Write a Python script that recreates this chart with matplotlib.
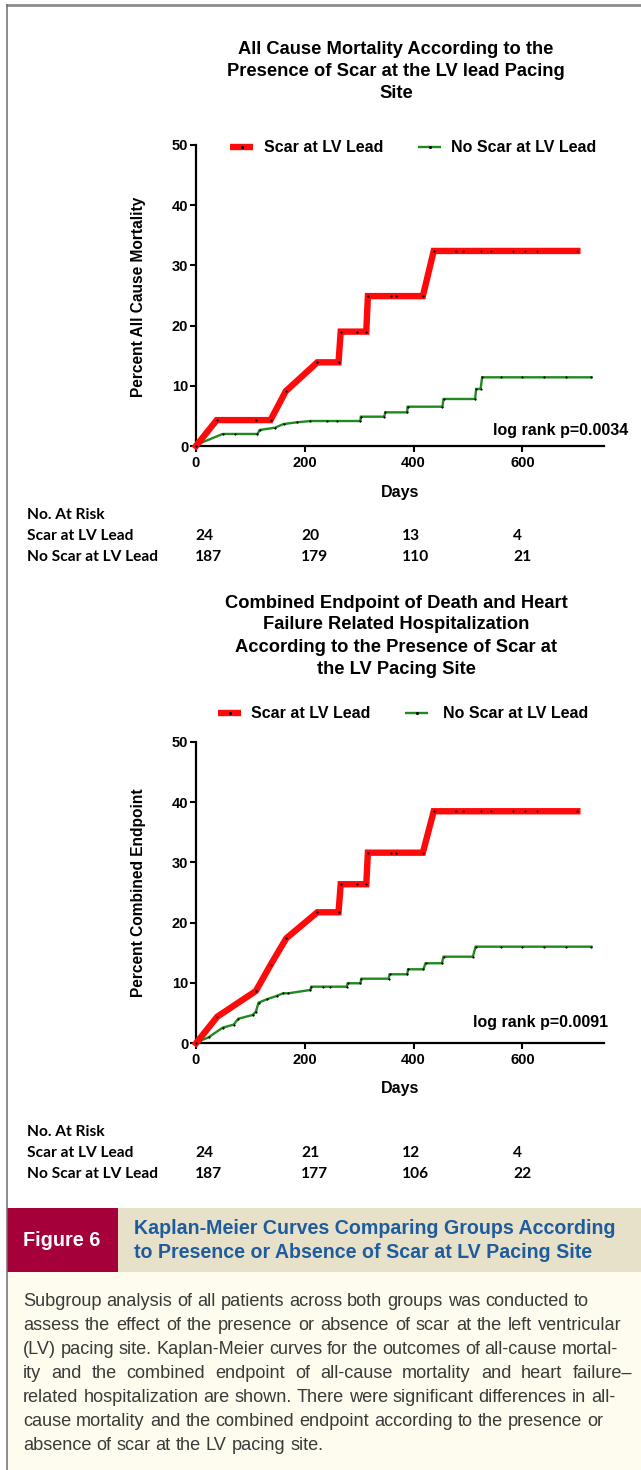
import matplotlib
matplotlib.use("Agg")
import matplotlib.pyplot as plt
from matplotlib.lines import Line2D
from matplotlib.patches import Rectangle

# ---------------- data ----------------
# Panel A: all cause mortality (percent)
mort_scar_days = [0, 38, 110, 137, 165, 223, 262, 266, 296, 313, 316, 359, 368, 417,
                  437, 478, 491, 523, 543, 583, 604, 627, 701]
mort_scar_vals = [0, 4.3, 4.3, 4.3, 9.1, 13.9, 13.9, 19.0, 19.0, 19.0, 24.9, 24.9, 24.9,
                  24.9, 32.4, 32.4, 32.4, 32.4, 32.4, 32.4, 32.4, 32.4, 32.4]
mort_noscar_days = [0, 7, 49, 72, 113, 117, 145, 161, 185, 210, 240, 260, 302, 303, 346,
                    348, 388, 389, 453, 455, 513, 515, 523, 526, 560, 600, 640, 680, 727]
mort_noscar_vals = [0, 0.44, 2.0, 2.0, 2.0, 2.66, 3.04, 3.65, 3.93, 4.15, 4.15, 4.15, 4.15,
                    4.87, 4.87, 5.59, 5.59, 6.53, 6.53, 7.81, 7.81, 9.47, 9.47, 11.41,
                    11.41, 11.41, 11.41, 11.41, 11.41]

# Panel B: combined endpoint (percent)
comb_scar_days = [0, 39, 110, 137, 166, 223, 262, 266, 296, 313, 316, 359, 368, 417,
                  437, 478, 491, 523, 543, 583, 604, 627, 701]
comb_scar_vals = [0, 4.41, 8.67, 12.99, 17.41, 21.72, 21.72, 26.37, 26.37, 26.37, 31.6,
                  31.6, 31.6, 31.6, 38.47, 38.47, 38.47, 38.47, 38.47, 38.47, 38.47,
                  38.47, 38.47]
comb_noscar_days = [0, 7, 23, 49, 69, 78, 104, 110, 115, 130, 148, 160, 170, 210, 212,
                    234, 247, 277, 279, 302, 304, 354, 356, 388, 390, 418, 422, 452, 455,
                    509, 514, 560, 600, 640, 680, 727]
comb_noscar_vals = [0, 0.38, 0.99, 2.59, 3.09, 4.08, 4.69, 5.24, 6.73, 7.3, 7.85, 8.29,
                    8.29, 8.84, 9.39, 9.39, 9.39, 9.39, 9.95, 9.95, 10.71, 10.71, 11.44,
                    11.44, 12.27, 12.27, 13.27, 13.27, 14.36, 14.36, 16.02, 16.02, 16.02,
                    16.02, 16.02, 16.02]

series_labels = ["Scar at LV Lead", "No Scar at LV Lead"]
x_ticks = [0, 200, 400, 600]
y_ticks = [0, 10, 20, 30, 40, 50]

risk_scar_A = ["24", "20", "13", "4"]
risk_noscar_A = ["187", "179", "110", "21"]
risk_scar_B = ["24", "21", "12", "4"]
risk_noscar_B = ["187", "177", "106", "22"]

title_A = ["All Cause Mortality According to the",
           "Presence of Scar at the LV lead Pacing",
           "Site"]
title_B = ["Combined Endpoint of Death and Heart",
           "Failure Related Hospitalization",
           "According to the Presence of Scar at",
           "the LV Pacing Site"]
ylabel_A = "Percent All Cause Mortality"
ylabel_B = "Percent Combined Endpoint"
logrank_A = "log rank p=0.0034"
logrank_B = "log rank p=0.0091"

fig_label = "Figure 6"
fig_title = ["Kaplan-Meier Curves Comparing Groups According",
             "to Presence or Absence of Scar at LV Pacing Site"]
caption = [
    "Subgroup analysis of all patients across both groups was conducted to",
    "assess the effect of the presence or absence of scar at the left ventricular",
    "(LV) pacing site. Kaplan-Meier curves for the outcomes of all-cause mortal-",
    "ity and the combined endpoint of all-cause mortality and heart failure\u2013",
    "related hospitalization are shown. There were significant differences in all-",
    "cause mortality and the combined endpoint according to the presence or",
    "absence of scar at the LV pacing site.",
]

# ---------------- style ----------------
W, H = 641, 1470
RED = "#FF0A0A"
GREEN = "#1F8A1F"
CRIMSON = "#A5003A"
BEIGE = "#E8E1CA"
CREAM = "#FEFCEE"
BLUE = "#1E5C9E"
BORDER = "#8C8C8C"
ARIAL = "Liberation Sans"
RISKFONT = "Lato"

fig = plt.figure(figsize=(W / 100, H / 100), dpi=100)
fig.patch.set_facecolor("white")
renderer = fig.canvas.get_renderer()


def fx(x):
    return x / W


def fy(y):
    return 1 - y / H


def ftext(x, y, s, **kw):
    return fig.text(fx(x), fy(y), s, **kw)


def text_width(s, **kw):
    t = fig.text(0, 0, s, **kw)
    w = t.get_window_extent(renderer).width
    t.remove()
    return w


def fit_size(s, target, **kw):
    return 10 * target / text_width(s, fontsize=10, **kw)


# ---------------- background / frame ----------------
fig.add_artist(Rectangle((fx(7), 0), 1 - fx(7), fy(1272), transform=fig.transFigure,
                         facecolor=CREAM, edgecolor="none", zorder=0))
fig.add_artist(Rectangle((fx(118), fy(1272)), 1 - fx(118), (1272 - 1208) / H,
                         transform=fig.transFigure, facecolor=BEIGE, edgecolor="none", zorder=1))
fig.add_artist(Rectangle((fx(7), fy(1272)), (118 - 7) / W, (1272 - 1208) / H,
                         transform=fig.transFigure, facecolor=CRIMSON, edgecolor="none", zorder=1))
fig.add_artist(Line2D([fx(7), 1], [fy(5), fy(5)], transform=fig.transFigure,
                      color=BORDER, lw=2.0, zorder=5))
fig.add_artist(Line2D([fx(7), fx(7)], [fy(5), 0], transform=fig.transFigure,
                      color="#6E6E6E", lw=1.1, zorder=5))


# ---------------- panels ----------------
def panel(top, bottom, title_lines, title_y0, legend_y, legend_x, s_days, s_vals,
          n_days, n_vals, ylabel, ylab_y, logrank, logrank_x, logrank_y, days_y,
          risk_y0, risk_s, risk_n):
    ax = fig.add_axes([fx(196), fy(bottom), (604 - 196) / W, (bottom - top) / H])
    ax.set_facecolor("none")
    ax.plot(n_days, n_vals, color=GREEN, lw=1.7, marker=".", ms=2.4, mfc="black",
            mec="black", mew=0.3, clip_on=False, zorder=3, solid_joinstyle="miter")
    ax.plot(s_days, s_vals, color=RED, lw=4.6, marker=".", ms=2.4, mfc="black",
            mec="black", mew=0.3, clip_on=False, zorder=4, solid_joinstyle="miter")
    ax.set_xlim(0, 750)
    ax.set_ylim(0, 50)
    ax.set_xticks(x_ticks)
    ax.set_yticks(y_ticks)
    for side in ("top", "right"):
        ax.spines[side].set_visible(False)
    for side in ("left", "bottom"):
        ax.spines[side].set_linewidth(1.6)
    ax.tick_params(direction="out", length=4, width=1.5, labelsize=10.5, pad=1.5)
    ax.tick_params(axis="x", pad=3)
    for lab in ax.get_xticklabels() + ax.get_yticklabels():
        lab.set_fontweight("bold")
        lab.set_fontfamily(ARIAL)

    # title
    for i, line in enumerate(title_lines):
        ftext(396, title_y0 + 22 * i, line, ha="center", va="center",
              fontsize=13.2, fontweight="bold", family=ARIAL)
    # legend
    (rx, rtx, gx, gtx) = legend_x
    fig.add_artist(Line2D([fx(rx), fx(rx + 23)], [fy(legend_y)] * 2, transform=fig.transFigure,
                          color=RED, lw=4.6, solid_capstyle="butt"))
    fig.add_artist(Line2D([fx(rx + 11.5)], [fy(legend_y)], transform=fig.transFigure,
                          marker=".", ms=2.4, color="black"))
    fig.add_artist(Line2D([fx(gx), fx(gx + 23)], [fy(legend_y)] * 2, transform=fig.transFigure,
                          color=GREEN, lw=1.7, solid_capstyle="butt"))
    fig.add_artist(Line2D([fx(gx + 11.5)], [fy(legend_y)], transform=fig.transFigure,
                          marker=".", ms=2.4, color="black"))
    ftext(rtx, legend_y, series_labels[0], ha="left", va="center", fontsize=11.5,
          fontweight="bold", family=ARIAL)
    ftext(gtx, legend_y, series_labels[1], ha="left", va="center", fontsize=11.5,
          fontweight="bold", family=ARIAL)
    # axis labels
    ftext(138, ylab_y, ylabel, rotation=90, ha="center", va="center", fontsize=11.2,
          fontweight="bold", family=ARIAL)
    ftext(400, days_y, "Days", ha="center", va="center", fontsize=11.5,
          fontweight="bold", family=ARIAL)
    ftext(logrank_x, logrank_y, logrank, ha="left", va="center", fontsize=11.5,
          fontweight="bold", family=ARIAL)
    # risk table
    rs = risk_font
    ftext(27, risk_y0, "No. At Risk", ha="left", va="center", fontsize=rs,
          fontweight="bold", family=RISKFONT)
    ftext(27, risk_y0 + 21, series_labels[0], ha="left", va="center", fontsize=rs,
          fontweight="bold", family=RISKFONT)
    ftext(27, risk_y0 + 42, series_labels[1], ha="left", va="center", fontsize=rs,
          fontweight="bold", family=RISKFONT)
    for cx, a, b in zip([195, 301, 402, 513], risk_s, risk_n):
        ftext(cx, risk_y0 + 21, a, ha="left", va="center", fontsize=rs,
              fontweight="bold", family=RISKFONT)
        ftext(cx, risk_y0 + 42, b, ha="left", va="center", fontsize=rs,
              fontweight="bold", family=RISKFONT)
    return ax


risk_font = fit_size("No Scar at LV Lead", 131, fontweight="bold", family=RISKFONT)

panel(145, 446, title_A, 49, 147, (230, 264, 418, 451),
      mort_scar_days, mort_scar_vals, mort_noscar_days, mort_noscar_vals,
      ylabel_A, 297, logrank_A, 493, 431, 492, 515, risk_scar_A, risk_noscar_A)

panel(741.7, 1043.3, title_B, 603, 713, (218, 251, 405, 443),
      comb_scar_days, comb_scar_vals, comb_noscar_days, comb_noscar_vals,
      ylabel_B, 893, logrank_B, 473, 1023, 1089, 1132, risk_scar_B, risk_noscar_B)

# ---------------- figure banner ----------------
fl_size = fit_size(fig_label, 78, fontweight="bold", family=ARIAL)
ftext(23, 1241, fig_label, ha="left", va="center", fontsize=fl_size, fontweight="bold",
      family=ARIAL, color="white", zorder=6)
ft_size = fit_size(fig_title[0], 483, fontweight="bold", family=ARIAL)
ftext(134, 1229, fig_title[0], ha="left", va="center", fontsize=ft_size,
      fontweight="bold", family=ARIAL, color=BLUE, zorder=6)
ftext(134, 1253, fig_title[1], ha="left", va="center", fontsize=ft_size,
      fontweight="bold", family=ARIAL, color=BLUE, zorder=6)

# ---------------- caption (justified) ----------------
cap_kw = dict(family=ARIAL, color="#3A3A3A")
cap_size = fit_size(caption[0], 567, **cap_kw)
right_edges = [None, 622, 618, 632, 615, 603, None]
space_w = (text_width("x x", fontsize=cap_size, **cap_kw)
           - text_width("xx", fontsize=cap_size, **cap_kw))
for i, line in enumerate(caption):
    y = 1301 + 24 * i
    words = line.split(" ")
    widths = [text_width(w, fontsize=cap_size, **cap_kw) for w in words]
    if right_edges[i] is None or len(words) < 2:
        gap = space_w
    else:
        gap = (right_edges[i] - 23 - sum(widths)) / (len(words) - 1)
        gap = max(gap, space_w * 0.6)
    x = 23.0
    for w, ww in zip(words, widths):
        ftext(x, y, w, ha="left", va="center", fontsize=cap_size, zorder=6, **cap_kw)
        x += ww + gap

fig.savefig("out.png", dpi=100, facecolor="white")
